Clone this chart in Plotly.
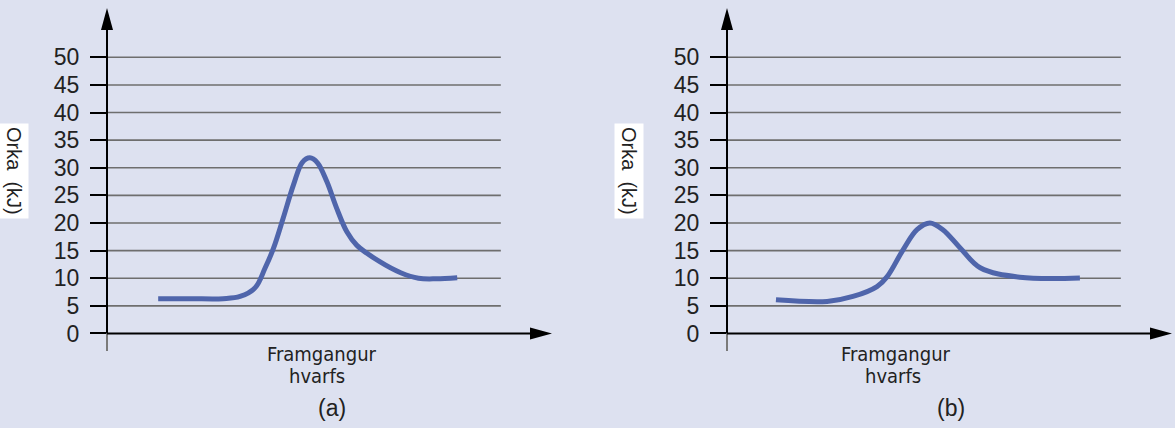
import plotly.graph_objects as go

# ---------------- data ----------------
progress_a = [11.5, 18.7, 26.1, 29.9, 33.3, 35.5, 37.4, 39.6, 41.9, 43.9, 45.6, 47.3, 49.4, 51.6, 53.9, 56.1, 61.3, 66.0, 70.0, 74.0, 78.7]
energy_a   = [6.3, 6.3, 6.3, 6.7, 8.3, 11.8, 15.4, 20.9, 26.9, 31.0, 31.8, 30.9, 27.5, 22.7, 18.4, 16.0, 13.0, 11.0, 10.0, 9.9, 10.1]

progress_b = [11.0, 22.5, 28.3, 33.7, 36.0, 39.6, 42.7, 45.6, 48.5, 52.4, 56.9, 65.8, 79.3]
energy_b   = [6.1, 5.8, 6.7, 8.5, 10.3, 15.2, 18.8, 20.0, 18.8, 15.5, 11.9, 10.2, 10.05]

tick_vals = [0, 5, 10, 15, 20, 25, 30, 35, 40, 45, 50]
tick_text = [str(v) for v in tick_vals]

y_title = "Orka\u00a0 (kJ)"
x_title_1 = "Framgangur"
x_title_2 = "hvarfs"
panel_labels = ["(a)", "(b)"]

# ---------------- layout constants ----------------
W, H = 1175, 428
BG = "#dde1f0"
LINE_COLOR = "#4f65ab"
GRID_COLOR = "#6e6e6e"
X_RANGE = [0, 100]
Y_RANGE = [-3.17, 58.93]
GRID_END = 88.5
ARROW_BASE_X = 95.06

def px_x(p):
    return p / W

def px_y(p):
    return 1 - p / H

fig = go.Figure()

panels = [
    dict(x=progress_a, y=energy_a, xa="x", ya="y", axis_px=107, dom=[px_x(107), px_x(552)],
         title_cx=14, lab_cx=[322, 317, 332]),
    dict(x=progress_b, y=energy_b, xa="x2", ya="y2", axis_px=727, dom=[px_x(727), px_x(1172)],
         title_cx=629, lab_cx=[896, 893, 951]),
]

shapes = []
annotations = []
for i, p in enumerate(panels):
    fig.add_trace(go.Scatter(
        x=p["x"], y=p["y"], xaxis=p["xa"], yaxis=p["ya"], mode="lines",
        line=dict(color=LINE_COLOR, width=5, shape="spline", smoothing=1.0),
        showlegend=False, hoverinfo="skip"))
    xa, ya = p["xa"], p["ya"]
    ax = p["axis_px"]
    # gridlines
    for v in tick_vals[1:]:
        shapes.append(dict(type="line", xref=xa, yref=ya, x0=0, x1=GRID_END, y0=v, y1=v,
                           line=dict(color=GRID_COLOR, width=1.6), layer="below"))
    # y axis line below zero (gray)
    shapes.append(dict(type="line", xref="paper", yref="paper", x0=px_x(ax), x1=px_x(ax),
                       y0=px_y(351), y1=px_y(333.5), line=dict(color="#7a7a7a", width=2)))
    # y axis line
    shapes.append(dict(type="line", xref="paper", yref="paper", x0=px_x(ax), x1=px_x(ax),
                       y0=px_y(333.5), y1=px_y(28), line=dict(color="black", width=2)))
    # y arrow head
    shapes.append(dict(type="path", xref="paper", yref="paper",
                       path=f"M {px_x(ax - 6)} {px_y(30)} L {px_x(ax + 6)} {px_y(30)} L {px_x(ax)} {px_y(8)} Z",
                       fillcolor="black", line=dict(width=0)))
    # x axis line
    shapes.append(dict(type="line", xref=xa, yref=ya, x0=0, x1=ARROW_BASE_X + 0.5, y0=0, y1=0,
                       line=dict(color="black", width=2)))
    # x arrow head
    hy = 6 / 5.524
    shapes.append(dict(type="path", xref=xa, yref=ya,
                       path=f"M {ARROW_BASE_X} {-hy} L {ARROW_BASE_X} {hy} L {X_RANGE[1]} 0 Z",
                       fillcolor="black", line=dict(width=0)))
    # y title
    annotations.append(dict(text=y_title, xref="paper", yref="paper",
                            x=px_x(p["title_cx"]), y=px_y(171), xanchor="center", yanchor="middle",
                            textangle=90, showarrow=False, bgcolor="white", borderpad=3,
                            font=dict(family="Liberation Sans, Arial", size=20, color="#222222")))
    # x titles
    annotations.append(dict(text=x_title_1, xref="paper", yref="paper",
                            x=px_x(p["lab_cx"][0]), y=px_y(368), xanchor="center", yanchor="bottom",
                            showarrow=False,
                            font=dict(family="DejaVu Sans Condensed, DejaVu Sans", size=20, color="#222222")))
    annotations.append(dict(text=x_title_2, xref="paper", yref="paper",
                            x=px_x(p["lab_cx"][1]), y=px_y(390), xanchor="center", yanchor="bottom",
                            showarrow=False,
                            font=dict(family="DejaVu Sans Condensed, DejaVu Sans", size=20, color="#222222")))
    annotations.append(dict(text=panel_labels[i], xref="paper", yref="paper",
                            x=px_x(p["lab_cx"][2]), y=px_y(408), xanchor="center", yanchor="middle",
                            showarrow=False,
                            font=dict(family="Liberation Sans, Arial", size=23, color="#222222")))

y_dom = [px_y(351), px_y(8)]
axis_common_x = dict(range=X_RANGE, showgrid=False, zeroline=False, showticklabels=False,
                     ticks="", showline=False, fixedrange=True)
axis_common_y = dict(range=Y_RANGE, domain=y_dom, showgrid=False, zeroline=False,
                     tickmode="array", tickvals=tick_vals, ticktext=tick_text,
                     ticks="outside", ticklen=16, tickwidth=2, tickcolor="black",
                     showline=False, ticklabelstandoff=6,
                     tickfont=dict(family="Liberation Sans, Arial", size=23, color="#222222"))

fig.update_layout(
    width=W, height=H,
    margin=dict(l=0, r=0, t=0, b=0),
    paper_bgcolor=BG, plot_bgcolor=BG,
    xaxis=dict(domain=panels[0]["dom"], anchor="y", **axis_common_x),
    yaxis=dict(anchor="x", **axis_common_y),
    xaxis2=dict(domain=panels[1]["dom"], anchor="y2", **axis_common_x),
    yaxis2=dict(anchor="x2", **axis_common_y),
    shapes=shapes,
    annotations=annotations,
)

fig.write_html("out.html")
